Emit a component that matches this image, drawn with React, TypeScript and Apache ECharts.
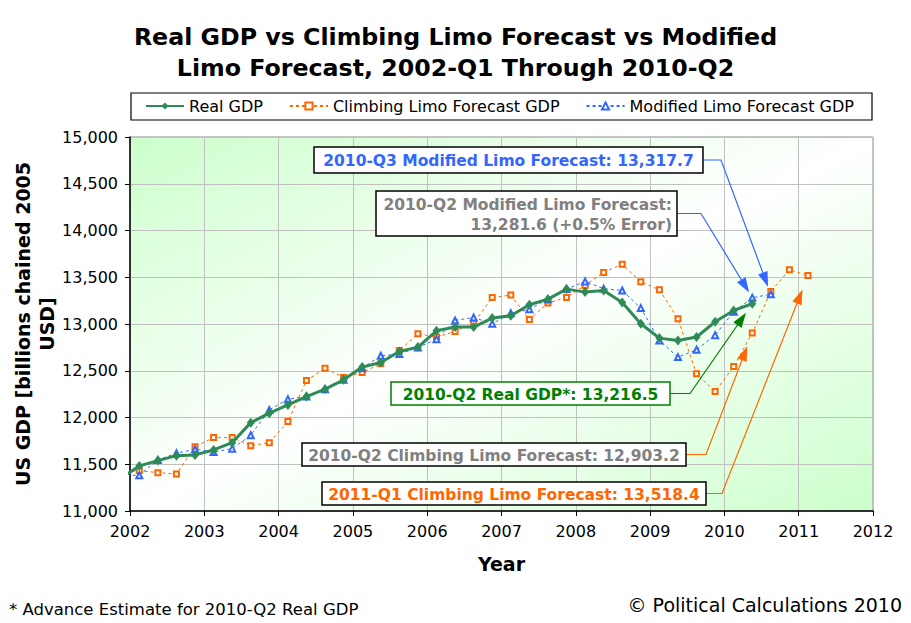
import * as echarts from 'echarts';
import { useEffect, useRef } from 'react';

// quarters from 2001-Q4 (clipped by the axis) to 2011-Q1
const quarters = [
  '2001-Q4',
  '2002-Q1', '2002-Q2', '2002-Q3', '2002-Q4',
  '2003-Q1', '2003-Q2', '2003-Q3', '2003-Q4',
  '2004-Q1', '2004-Q2', '2004-Q3', '2004-Q4',
  '2005-Q1', '2005-Q2', '2005-Q3', '2005-Q4',
  '2006-Q1', '2006-Q2', '2006-Q3', '2006-Q4',
  '2007-Q1', '2007-Q2', '2007-Q3', '2007-Q4',
  '2008-Q1', '2008-Q2', '2008-Q3', '2008-Q4',
  '2009-Q1', '2009-Q2', '2009-Q3', '2009-Q4',
  '2010-Q1', '2010-Q2', '2010-Q3', '2010-Q4',
  '2011-Q1',
];

const realGdp = [
  11350,
  11482, 11539, 11592, 11600,
  11653, 11731, 11945, 12046,
  12135, 12224, 12303, 12403,
  12539, 12588, 12706, 12753,
  12927, 12967, 12967, 13063,
  13088, 13206, 13266, 13373,
  13341, 13359, 13230, 13002,
  12849, 12823, 12860, 13024,
  13145, 13216.5,
];

const climbingLimo = [
  11415,
  11432, 11410, 11396, 11688,
  11785, 11785, 11699, 11731,
  11956, 12395, 12528, 12428,
  12481, 12574, 12716, 12895,
  12860, 12920, 13009, 13284,
  13309, 13048, 13224, 13284,
  13413, 13552, 13638, 13452,
  13366, 13056, 12467, 12278,
  12545, 12903.2, 13348, 13580,
  13518.4,
];

const modifiedLimo = [
  11380,
  11382, 11546, 11617, 11660,
  11632, 11667, 11810, 12081,
  12196, 12224, 12303, 12403,
  12528, 12660, 12678, 12749,
  12838, 13038, 13070, 13002,
  13116, 13159, 13266, 13373,
  13455, 13377, 13359, 13170,
  12823, 12646, 12724, 12881,
  13131, 13281.6, 13317.7,
];

const seriesNames = ['Real GDP', 'Climbing Limo Forecast GDP', 'Modified Limo Forecast GDP'];
const yearTicks = [2002, 2003, 2004, 2005, 2006, 2007, 2008, 2009, 2010, 2011, 2012];

const FONT = '"DejaVu Sans", Verdana, sans-serif';

// quarter plotted at its middle, e.g. 2002-Q1 -> 2002.125
const quarterX = (q: string) => {
  const [y, qq] = q.split('-Q');
  return Number(y) + (Number(qq) - 0.5) / 4;
};

const toPoints = (values: number[]) => values.map((v, i) => [quarterX(quarters[i]), v]);

type Note = {
  text: string;
  color: string;
  lineColor: string;
  border: string;
  box: [number, number, number, number];
  elbowX: number;
  values: number[];
  quarter: string;
  gap: number;
  align?: 'right';
};

const notes: Note[] = [
  {
    text: '2010-Q3 Modified Limo Forecast: 13,317.7',
    color: '#3366ff', lineColor: '#3366ff', border: '#000',
    box: [314, 147, 389, 26], elbowX: 721,
    values: modifiedLimo, quarter: '2010-Q3', gap: 8,
  },
  {
    text: '2010-Q2 Modified Limo Forecast:\n13,281.6 (+0.5% Error)',
    color: '#808080', lineColor: '#3366ff', border: '#000',
    box: [376, 191, 301, 45], elbowX: 701,
    values: modifiedLimo, quarter: '2010-Q2', gap: 6, align: 'right',
  },
  {
    text: '2010-Q2 Real GDP*: 13,216.5',
    color: '#008000', lineColor: '#008000', border: '#008000',
    box: [391, 382, 279, 23], elbowX: 690,
    values: realGdp, quarter: '2010-Q2', gap: 11,
  },
  {
    text: '2010-Q2 Climbing Limo Forecast: 12,903.2',
    color: '#808080', lineColor: '#ff6600', border: '#000',
    box: [302, 443, 384, 23], elbowX: 706,
    values: climbingLimo, quarter: '2010-Q2', gap: 14,
  },
  {
    text: '2011-Q1 Climbing Limo Forecast: 13,518.4',
    color: '#ff6600', lineColor: '#ff6600', border: '#000',
    box: [322, 482, 384, 23], elbowX: 722,
    values: climbingLimo, quarter: '2011-Q1', gap: 15,
  },
];

export default function App() {
  const ref = useRef<HTMLDivElement | null>(null);

  useEffect(() => {
    if (!ref.current) return;
    const chart = echarts.init(ref.current, null, { renderer: 'svg' });

    chart.setOption({
      animation: false,
      backgroundColor: '#fff',
      textStyle: { fontFamily: FONT },
      grid: {
        left: 130,
        right: 38,
        top: 137,
        bottom: 112,
        outerBoundsMode: 'none',
        show: true,
        borderColor: '#8c8c8c',
        borderWidth: 1,
        backgroundColor: new echarts.graphic.LinearGradient(0, 0, 1, 1, [
          { offset: 0, color: '#ccffcc' },
          { offset: 0.5, color: '#ffffff' },
          { offset: 1, color: '#ccffcc' },
        ]),
      },
      legend: {
        data: seriesNames,
        top: 98,
        left: 145,
        padding: 0,
        itemGap: 26,
        itemWidth: 38,
        itemHeight: 9,
        textStyle: { fontFamily: FONT, fontSize: 16, color: '#000' },
      },
      xAxis: {
        type: 'value',
        min: yearTicks[0],
        max: yearTicks[yearTicks.length - 1],
        interval: 1,
        name: 'Year',
        nameLocation: 'middle',
        nameGap: 43,
        nameTextStyle: { fontFamily: FONT, fontSize: 19, fontWeight: 'bold', color: '#000' },
        axisLine: { lineStyle: { color: '#000', width: 1.5 } },
        axisTick: { length: 5, lineStyle: { color: '#000' } },
        axisLabel: { margin: 12, fontSize: 16, color: '#000', fontFamily: FONT, formatter: (v: number) => String(v) },
        splitLine: { lineStyle: { color: '#c0c0c0', width: 1 } },
      },
      yAxis: {
        type: 'value',
        min: 11000,
        max: 15000,
        interval: 500,
        name: 'US GDP [billions chained 2005\nUSD]',
        nameLocation: 'middle',
        nameRotate: 90,
        nameGap: 71,
        nameMoveOverlap: false,
        nameTextStyle: { fontFamily: FONT, fontSize: 19, fontWeight: 'bold', color: '#000', lineHeight: 24 },
        axisLine: { show: true, lineStyle: { color: '#000', width: 1.5 } },
        axisTick: { show: true, length: 5, lineStyle: { color: '#000' } },
        axisLabel: {
          margin: 12,
          fontSize: 16,
          color: '#000',
          fontFamily: FONT,
          formatter: (v: number) => v.toLocaleString('en-US'),
        },
        splitLine: { lineStyle: { color: '#c0c0c0', width: 1 } },
      },
      series: [
        {
          name: seriesNames[1],
          type: 'line',
          data: toPoints(climbingLimo),
          symbol: 'emptyRect',
          symbolSize: 5,
          color: '#ff6600',
          lineStyle: { width: 1, type: [3, 3] },
          itemStyle: { borderWidth: 1.2 },
          z: 3,
        },
        {
          name: seriesNames[2],
          type: 'line',
          data: toPoints(modifiedLimo),
          symbol: 'emptyTriangle',
          symbolSize: 6,
          color: '#3366ff',
          lineStyle: { width: 1, type: [3, 3] },
          itemStyle: { borderWidth: 1.2 },
          z: 4,
        },
        {
          name: seriesNames[0],
          type: 'line',
          data: toPoints(realGdp),
          symbol: 'diamond',
          symbolSize: [8, 10],
          color: '#2e8b57',
          lineStyle: { width: 3 },
          z: 5,
        },
      ],
    } as echarts.EChartsOption);

    const graphics: any[] = [
      {
        type: 'text',
        z: 100,
        style: {
          text: 'Real GDP vs Climbing Limo Forecast vs Modified\nLimo Forecast, 2002-Q1 Through 2010-Q2',
          x: 455.5,
          y: 21,
          textAlign: 'center',
          font: `bold 23.7px ${FONT}`,
          lineHeight: 31,
          fill: '#000',
        },
      },
      {
        type: 'rect',
        z: 90,
        shape: { x: 131, y: 93, width: 741, height: 27 },
        style: { fill: 'none', stroke: '#000', lineWidth: 1.2 },
      },
      {
        type: 'text',
        z: 100,
        style: {
          text: '* Advance Estimate for 2010-Q2 Real GDP',
          x: 9,
          y: 609,
          textVerticalAlign: 'middle',
          font: `16.5px ${FONT}`,
          fill: '#000',
        },
      },
      {
        type: 'text',
        z: 100,
        style: {
          text: '© Political Calculations 2010',
          x: 902,
          y: 605,
          textAlign: 'right',
          textVerticalAlign: 'middle',
          font: `19px ${FONT}`,
          fill: '#000',
        },
      },
    ];

    notes.forEach((n) => {
      const [bx, by, bw, bh] = n.box;
      const idx = quarters.indexOf(n.quarter);
      const p = chart.convertToPixel({ gridIndex: 0 }, [quarterX(n.quarter), n.values[idx]]) as number[];
      const ey = by + bh / 2;
      const dx = p[0] - n.elbowX;
      const dy = p[1] - ey;
      const len = Math.sqrt(dx * dx + dy * dy);
      const ux = dx / len;
      const uy = dy / len;
      const tip = [p[0] - ux * n.gap, p[1] - uy * n.gap];
      const headL = 15;
      const headW = 10;
      const base = [tip[0] - ux * headL, tip[1] - uy * headL];
      const nx = -uy;
      const ny = ux;

      graphics.push(
        {
          type: 'polyline',
          z: 95,
          shape: { points: [[bx + bw, ey], [n.elbowX, ey], [base[0] + ux * 2, base[1] + uy * 2]] },
          style: { stroke: n.lineColor, lineWidth: 1.2, fill: 'none' },
        },
        {
          type: 'polygon',
          z: 95,
          shape: {
            points: [
              tip,
              [base[0] + nx * headW / 2, base[1] + ny * headW / 2],
              [base[0] - nx * headW / 2, base[1] - ny * headW / 2],
            ],
          },
          style: { fill: n.lineColor },
        },
        {
          type: 'rect',
          z: 96,
          shape: { x: bx, y: by, width: bw, height: bh },
          style: { fill: '#fff', stroke: n.border, lineWidth: 1.5 },
        },
        {
          type: 'text',
          z: 97,
          style: {
            text: n.text,
            x: n.align === 'right' ? bx + bw - 5 : bx + bw / 2,
            y: ey + 1,
            textAlign: n.align === 'right' ? 'right' : 'center',
            textVerticalAlign: 'middle',
            font: `bold 15.5px ${FONT}`,
            lineHeight: 20,
            fill: n.color,
          },
        }
      );
    });

    chart.setOption({ graphic: graphics });

    return () => chart.dispose();
  }, []);

  return (
    <div
      ref={ref}
      style={{ position: 'fixed', left: 0, top: 0, width: 911, height: 623, background: '#fff' }}
    />
  );
}
